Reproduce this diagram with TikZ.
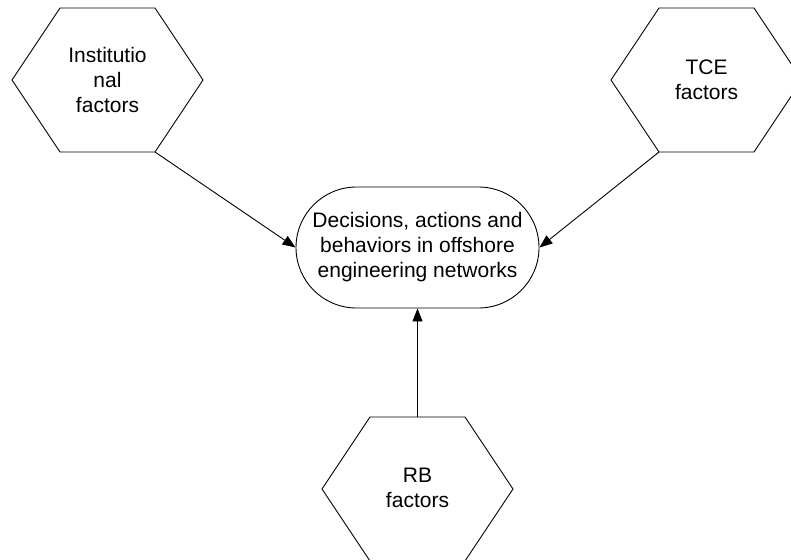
\documentclass[tikz,border=0pt]{standalone}
\usepackage{fontspec}
\setmainfont{Liberation Sans}
\usetikzlibrary{arrows.meta}

\tikzset{
  outline/.style={draw=black, line width=0.9pt, line join=miter},
  label text/.style={align=center, inner sep=0pt,
    font=\fontsize{21}{25}\selectfont},
  hub/.style={outline, fill=white, label text, rounded corners=60.5pt,
    minimum width=243pt, minimum height=121pt},
  link/.style={draw=black, line width=0.9pt,
    -{Triangle[length=13pt,width=10pt]}},
  % flat-topped hexagon with named corners
  pics/hexa/.style={code={
    \draw[outline] (-95.5,0) -- (-47.5,-72) -- (47.5,-72) -- (95.5,0)
                   -- (47.5,72) -- (-47.5,72) -- cycle;
    \coordinate (-tc) at (0,-72);
    \coordinate (-bl) at (-47.5,72);
    \coordinate (-br) at (47.5,72);
  }}
}

\begin{document}
\begin{tikzpicture}[x=1pt,y=-1pt]
  \useasboundingbox (0,0) rectangle (791,559);
  \clip (0,0) rectangle (791,559);
  \fill[white] (0,0) rectangle (791,559);

  % factor hexagons
  \pic (inst) at (107.5,80) {hexa};
  \pic (tce)  at (706.5,80) {hexa};
  \pic (rb)   at (417.5,489) {hexa};

  \node[label text] (instlabel) at (107.5,80) {Institutio\\nal\\factors};
  \node[label text] (tcelabel)  at (706.5,80) {TCE\\factors};
  \node[label text] (rblabel)   at (417.5,487.5) {RB\\factors};

  % central outcome
  \node[hub] (dec) at (417.5,247.5)
    {Decisions, actions and\\behaviors in offshore\\engineering networks};

  % influences
  \draw[link] (inst-br) -- (dec.west);
  \draw[link] (tce-bl)  -- (dec.east);
  \draw[link] (rb-tc)   -- (dec.south);
\end{tikzpicture}
\end{document}
